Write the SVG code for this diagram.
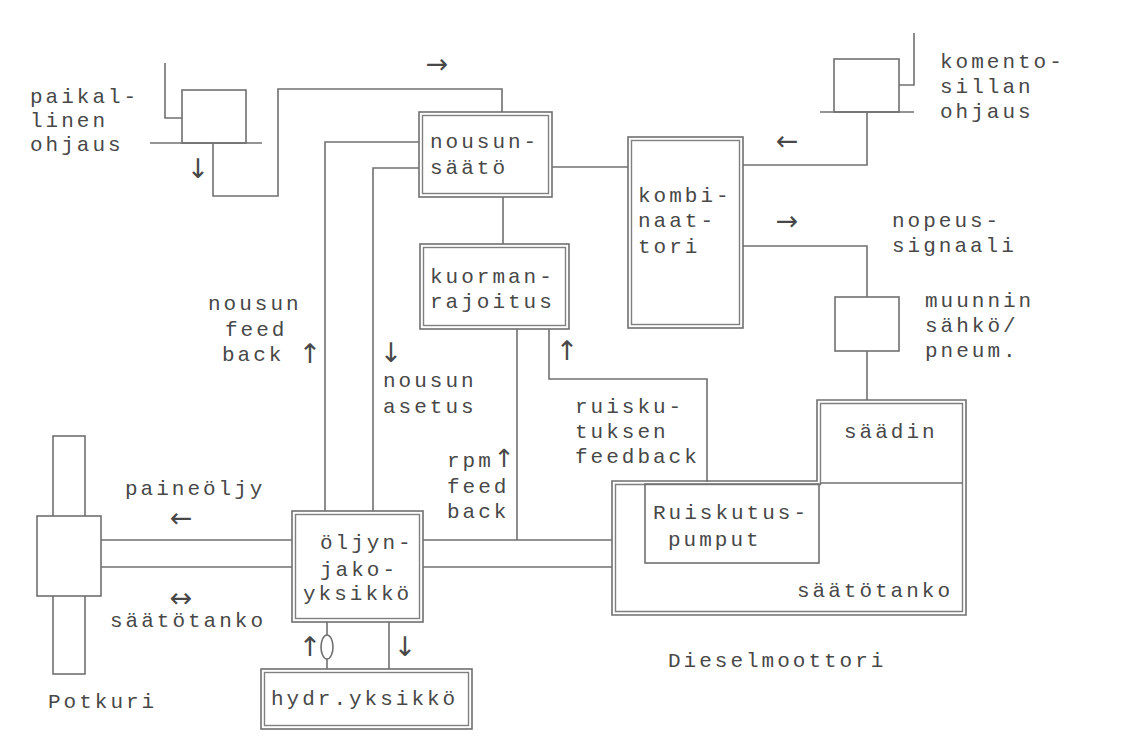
<svg xmlns="http://www.w3.org/2000/svg" width="1125" height="754" viewBox="0 0 1125 754">
<style>
.t{font-family:"Liberation Mono","DejaVu Sans Mono",monospace;font-size:21px;fill:#484848;letter-spacing:3px}
.a{font-family:"DejaVu Sans",sans-serif;font-size:27px;fill:#484848;text-anchor:middle}
.l{fill:none;stroke:#707070;stroke-width:1.6}
.b{fill:#fff;stroke:#707070;stroke-width:1.6}
.d{fill:none;stroke:#808080;stroke-width:1.4}
</style>
<rect width="1125" height="754" fill="#fff"/>
<g id="connectors">
<polyline class="l" points="213,143 213,196 278,196 278,89 502,89 502,112"/>
<polyline class="l" points="419,142 325,142 325,511"/>
<polyline class="l" points="419,168 373,168 373,511"/>
<line class="l" x1="552" y1="167" x2="628" y2="167"/>
<line class="l" x1="503" y1="197" x2="503" y2="244"/>
<polyline class="l" points="743,165 867,165 867,112"/>
<polyline class="l" points="743,246 867,246 867,297"/>
<line class="l" x1="867" y1="351" x2="867" y2="400"/>
<polyline class="l" points="549,329 549,379 707,379 707,482"/>
<line class="l" x1="517" y1="329" x2="517" y2="540"/>
<line class="l" x1="423" y1="540" x2="612" y2="540"/>
<line class="l" x1="423" y1="567" x2="612" y2="567"/>
<line class="l" x1="101" y1="540" x2="292" y2="540"/>
<line class="l" x1="101" y1="567" x2="292" y2="567"/>
<line class="l" x1="327" y1="622" x2="327" y2="669"/>
<ellipse class="b" cx="327" cy="647" rx="6" ry="12"/>
<line class="l" x1="389" y1="622" x2="389" y2="669"/>
<text class="a" x="437" y="73">→</text>
<text class="a" x="787" y="150">←</text>
<text class="a" x="787" y="230">→</text>
<text class="a" x="391" y="362">↓</text>
<text class="a" x="310" y="363">↑</text>
<text class="a" x="567" y="360">↑</text>
<text class="a" x="181" y="527">←</text>
<text class="a" x="181" y="607">↔</text>
<text class="a" x="310" y="656">↑</text>
<text class="a" x="405" y="656">↓</text>
</g>
<g id="paikallinen">
<polyline class="l" points="165,63 165,118 182,118"/>
<rect class="l" x="182" y="90" width="64" height="53"/>
<line class="l" x1="150" y1="143" x2="262" y2="143"/>
<text class="a" x="198" y="178">↓</text>
<text class="t" x="30" y="103">paikal-</text>
<text class="t" x="30" y="127">linen</text>
<text class="t" x="30" y="151">ohjaus</text>
</g>
<g id="komentosilta">
<polyline class="l" points="914,33 914,85 899,85"/>
<rect class="l" x="834" y="59" width="65" height="53"/>
<line class="l" x1="820" y1="112" x2="914" y2="112"/>
<text class="t" x="940" y="68">komento-</text>
<text class="t" x="940" y="93">sillan</text>
<text class="t" x="940" y="118">ohjaus</text>
</g>
<g id="nousunsaato">
<rect class="b" x="419" y="112" width="133" height="85"/>
<rect class="d" x="422.5" y="115.5" width="126" height="78"/>
<text class="t" x="430" y="148">nousun-</text>
<text class="t" x="430" y="174">säätö</text>
</g>
<g id="kuormanrajoitus">
<rect class="b" x="420" y="244" width="149" height="85"/>
<rect class="d" x="423.5" y="247.5" width="142" height="78"/>
<text class="t" x="430" y="283">kuorman-</text>
<text class="t" x="430" y="308">rajoitus</text>
</g>
<g id="kombinaattori">
<rect class="b" x="628" y="137" width="115" height="191"/>
<rect class="d" x="631.5" y="140.5" width="108" height="184"/>
<text class="t" x="638" y="202">kombi-</text>
<text class="t" x="638" y="227">naat-</text>
<text class="t" x="638" y="253">tori</text>
</g>
<g id="nopeussignaali">
<text class="t" x="892" y="227">nopeus-</text>
<text class="t" x="892" y="252">signaali</text>
</g>
<g id="muunnin">
<rect class="b" x="835" y="297" width="64" height="54"/>
<text class="t" x="925" y="307">muunnin</text>
<text class="t" x="925" y="332">sähkö/</text>
<text class="t" x="925" y="357">pneum.</text>
</g>
<g id="dieselmoottori">
<path class="l" d="M612,481 H817 V400 H966 V615 H612 Z"/>
<path class="d" d="M615.5,484.5 H820.5 V403.5 H962.5 V611.5 H615.5 Z"/>
<line class="l" x1="820" y1="483" x2="963" y2="483"/>
<rect class="l" x="645" y="484" width="174" height="79"/>
<text class="t" x="844" y="438">säädin</text>
<text class="t" x="653" y="519">Ruiskutus-</text>
<text class="t" x="668" y="546">pumput</text>
<text class="t" x="797" y="597">säätötanko</text>
<text class="t" x="668" y="667">Dieselmoottori</text>
</g>
<g id="oljynjakoyksikko">
<rect class="b" x="292" y="511" width="131" height="111"/>
<rect class="d" x="295.5" y="514.5" width="124" height="104"/>
<text class="t" x="320" y="549">öljyn-</text>
<text class="t" x="320" y="576">jako-</text>
<text class="t" x="303" y="600">yksikkö</text>
</g>
<g id="hydryksikko">
<rect class="b" x="261" y="669" width="211" height="60"/>
<rect class="d" x="264.5" y="672.5" width="204" height="53"/>
<text class="t" x="271" y="705">hydr.yksikkö</text>
</g>
<g id="potkuri">
<rect class="b" x="53" y="436" width="32" height="238"/>
<rect class="b" x="37" y="516" width="64" height="80"/>
<text class="t" x="48" y="708">Potkuri</text>
</g>
<g id="labels">
<text class="t" x="125" y="495">paineöljy</text>
<text class="t" x="110" y="627">säätötanko</text>
<text class="t" x="208" y="310">nousun</text>
<text class="t" x="225" y="336">feed</text>
<text class="t" x="222" y="361">back</text>
<text class="t" x="383" y="387">nousun</text>
<text class="t" x="383" y="413">asetus</text>
<text class="t" x="447" y="467">rpm<tspan style="font-family:'DejaVu Sans',sans-serif;font-size:25px;letter-spacing:0">↑</tspan></text>
<text class="t" x="447" y="493">feed</text>
<text class="t" x="447" y="518">back</text>
<text class="t" x="575" y="413">ruisku-</text>
<text class="t" x="575" y="438">tuksen</text>
<text class="t" x="575" y="463">feedback</text>
</g>
</svg>
